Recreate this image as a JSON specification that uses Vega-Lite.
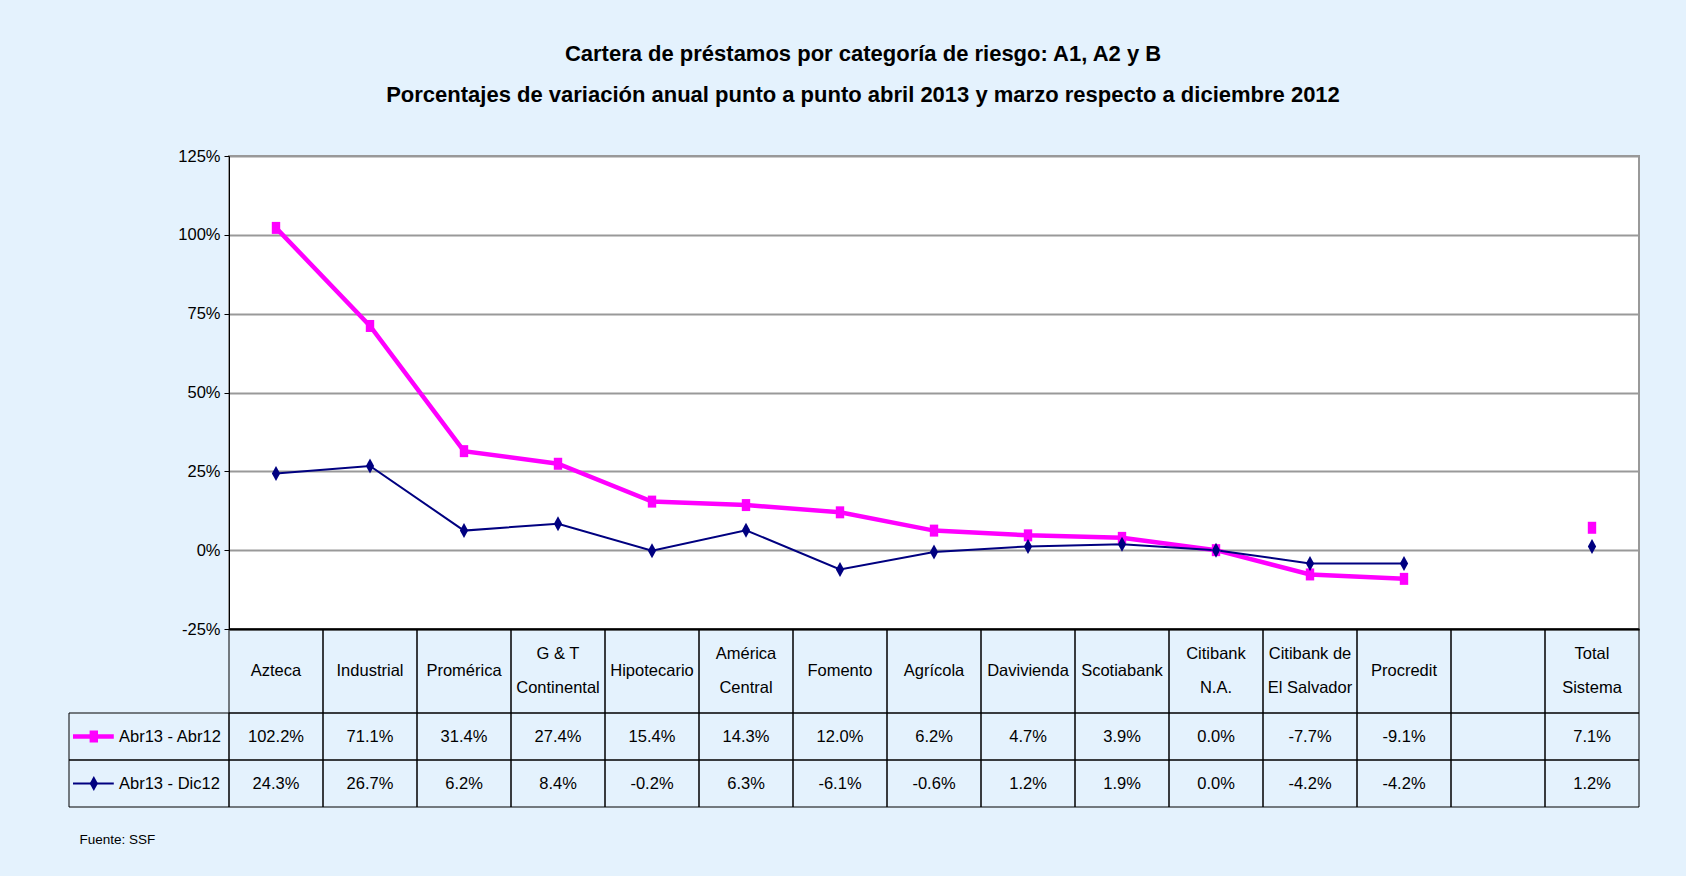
{
  "$schema": "https://vega.github.io/schema/vega-lite/v6.json",
  "background": "#E4F2FD",
  "padding": {"left": 68, "top": 43, "right": 48, "bottom": 30},
  "bounds": "flush",
  "title": {
    "text": ["Cartera de préstamos por categoría de riesgo: A1, A2 y B", "Porcentajes de variación anual punto a punto abril 2013 y marzo respecto a diciembre 2012"],
    "fontSize": 22, "fontWeight": "bold", "lineHeight": 41, "anchor": "middle", "dx": 9, "offset": 40, "color": "black"
  },
  "datasets": {
    "vals": [
      {"banco": "Azteca", "serie": "Abr13 - Abr12", "v": 1.022},
      {"banco": "Industrial", "serie": "Abr13 - Abr12", "v": 0.711},
      {"banco": "Promérica", "serie": "Abr13 - Abr12", "v": 0.314},
      {"banco": "G & T Continental", "serie": "Abr13 - Abr12", "v": 0.274},
      {"banco": "Hipotecario", "serie": "Abr13 - Abr12", "v": 0.154},
      {"banco": "América Central", "serie": "Abr13 - Abr12", "v": 0.143},
      {"banco": "Fomento", "serie": "Abr13 - Abr12", "v": 0.120},
      {"banco": "Agrícola", "serie": "Abr13 - Abr12", "v": 0.062},
      {"banco": "Davivienda", "serie": "Abr13 - Abr12", "v": 0.047},
      {"banco": "Scotiabank", "serie": "Abr13 - Abr12", "v": 0.039},
      {"banco": "Citibank N.A.", "serie": "Abr13 - Abr12", "v": 0.000},
      {"banco": "Citibank de El Salvador", "serie": "Abr13 - Abr12", "v": -0.077},
      {"banco": "Procredit", "serie": "Abr13 - Abr12", "v": -0.091},
      {"banco": " ", "serie": "Abr13 - Abr12", "v": null},
      {"banco": "Total Sistema", "serie": "Abr13 - Abr12", "v": 0.071},
      {"banco": "Azteca", "serie": "Abr13 - Dic12", "v": 0.243},
      {"banco": "Industrial", "serie": "Abr13 - Dic12", "v": 0.267},
      {"banco": "Promérica", "serie": "Abr13 - Dic12", "v": 0.062},
      {"banco": "G & T Continental", "serie": "Abr13 - Dic12", "v": 0.084},
      {"banco": "Hipotecario", "serie": "Abr13 - Dic12", "v": -0.002},
      {"banco": "América Central", "serie": "Abr13 - Dic12", "v": 0.063},
      {"banco": "Fomento", "serie": "Abr13 - Dic12", "v": -0.061},
      {"banco": "Agrícola", "serie": "Abr13 - Dic12", "v": -0.006},
      {"banco": "Davivienda", "serie": "Abr13 - Dic12", "v": 0.012},
      {"banco": "Scotiabank", "serie": "Abr13 - Dic12", "v": 0.019},
      {"banco": "Citibank N.A.", "serie": "Abr13 - Dic12", "v": 0.000},
      {"banco": "Citibank de El Salvador", "serie": "Abr13 - Dic12", "v": -0.042},
      {"banco": "Procredit", "serie": "Abr13 - Dic12", "v": -0.042},
      {"banco": " ", "serie": "Abr13 - Dic12", "v": null},
      {"banco": "Total Sistema", "serie": "Abr13 - Dic12", "v": 0.012}
    ],
    "encabezados": [
      {"banco": "Azteca", "lineas": "Azteca"},
      {"banco": "Industrial", "lineas": "Industrial"},
      {"banco": "Promérica", "lineas": "Promérica"},
      {"banco": "G & T Continental", "lineas": ["G & T", "Continental"]},
      {"banco": "Hipotecario", "lineas": "Hipotecario"},
      {"banco": "América Central", "lineas": ["América", "Central"]},
      {"banco": "Fomento", "lineas": "Fomento"},
      {"banco": "Agrícola", "lineas": "Agrícola"},
      {"banco": "Davivienda", "lineas": "Davivienda"},
      {"banco": "Scotiabank", "lineas": "Scotiabank"},
      {"banco": "Citibank N.A.", "lineas": ["Citibank", "N.A."]},
      {"banco": "Citibank de El Salvador", "lineas": ["Citibank de", "El Salvador"]},
      {"banco": "Procredit", "lineas": "Procredit"},
      {"banco": " ", "lineas": ""},
      {"banco": "Total Sistema", "lineas": ["Total", "Sistema"]}
    ],
    "series": [
      {"serie": "Abr13 - Abr12"},
      {"serie": "Abr13 - Dic12"}
    ]
  },
  "spacing": 0,
  "vconcat": [
    {
      "width": 1410,
      "height": 473,
      "data": {"name": "vals"},
      "view": {"fill": "white", "stroke": "#999999", "strokeWidth": 2},
      "encoding": {
        "x": {
          "field": "banco", "type": "nominal", "sort": null,
          "scale": {"type": "band", "paddingInner": 0, "paddingOuter": 0},
          "axis": {"title": null, "labels": false, "ticks": false, "domain": true, "domainColor": "black", "domainWidth": 2, "grid": false, "minExtent": 0, "maxExtent": 0, "labelPadding": 0}
        },
        "y": {
          "field": "v", "type": "quantitative",
          "scale": {"domain": [-0.25, 1.25], "nice": false, "zero": false},
          "axis": {
            "values": [-0.25, 0, 0.25, 0.5, 0.75, 1, 1.25], "format": ".0%", "title": null,
            "grid": true, "gridColor": "#999999", "gridWidth": 2,
            "domainColor": "black", "tickColor": "black", "tickSize": 5,
            "labelFontSize": 16.5, "labelColor": "black", "labelPadding": 4,
            "minExtent": 160, "maxExtent": 160
          }
        },
        "color": {
          "field": "serie", "type": "nominal",
          "scale": {"domain": ["Abr13 - Abr12", "Abr13 - Dic12"], "range": ["#FF00FF", "#000080"]},
          "legend": null
        }
      },
      "layer": [
        {
          "mark": {"type": "line"},
          "encoding": {
            "strokeWidth": {"field": "serie", "type": "ordinal", "scale": {"domain": ["Abr13 - Abr12", "Abr13 - Dic12"], "range": [4.5, 2]}, "legend": null}
          }
        },
        {
          "mark": {"type": "point", "filled": true, "opacity": 1},
          "encoding": {
            "shape": {"field": "serie", "type": "nominal", "scale": {"domain": ["Abr13 - Abr12", "Abr13 - Dic12"], "range": ["M-0.7,-1H0.7V1H-0.7Z", "M-0.55,0L0,-1L0.55,0L0,1Z"]}, "legend": null},
            "size": {"field": "serie", "type": "nominal", "scale": {"domain": ["Abr13 - Abr12", "Abr13 - Dic12"], "range": [144, 225]}, "legend": null}
          }
        }
      ]
    },
    {
      "width": 1410,
      "height": 84,
      "data": {"name": "encabezados"},
      "encoding": {
        "x": {
          "field": "banco", "type": "nominal",
          "scale": {"type": "band", "paddingInner": 0, "paddingOuter": 0, "domain": ["Azteca", "Industrial", "Promérica", "G & T Continental", "Hipotecario", "América Central", "Fomento", "Agrícola", "Davivienda", "Scotiabank", "Citibank N.A.", "Citibank de El Salvador", "Procredit", " ", "Total Sistema"]},
          "axis": null
        }
      },
      "layer": [
        {"mark": {"type": "rect", "fill": "transparent", "stroke": "black", "strokeWidth": 1}},
        {
          "transform": [{"filter": "!isArray(datum.lineas)"}],
          "mark": {"type": "text", "fontSize": 16.5, "color": "black", "baseline": "middle"},
          "encoding": {"text": {"field": "lineas", "type": "nominal"}}
        },
        {
          "transform": [{"filter": "isArray(datum.lineas)"}],
          "mark": {"type": "text", "fontSize": 16.5, "color": "black", "baseline": "middle", "lineHeight": 34, "dy": -17},
          "encoding": {"text": {"field": "lineas", "type": "nominal"}}
        }
      ]
    },
    {
      "width": 1410,
      "height": 94,
      "title": {"text": "Fuente: SSF", "orient": "bottom", "anchor": "start", "fontSize": 13.5, "fontWeight": "normal", "offset": 25, "dx": 11, "color": "black"},
      "encoding": {
        "y": {"field": "serie", "type": "nominal", "sort": null, "scale": {"type": "band", "paddingInner": 0, "paddingOuter": 0}, "axis": null}
      },
      "resolve": {"scale": {"x": "independent"}},
      "layer": [
        {
          "data": {"name": "vals"},
          "encoding": {
            "x": {"field": "banco", "type": "nominal", "sort": null, "scale": {"type": "band", "paddingInner": 0, "paddingOuter": 0}, "axis": null}
          },
          "layer": [
            {"mark": {"type": "rect", "fill": "transparent", "stroke": "black", "strokeWidth": 1}},
            {
              "transform": [{"filter": "isValid(datum.v)"}],
              "mark": {"type": "text", "fontSize": 16.5, "color": "black", "baseline": "middle"},
              "encoding": {"text": {"field": "v", "type": "quantitative", "format": ".1%"}}
            }
          ]
        },
        {
          "data": {"name": "series"},
          "layer": [
            {
              "mark": {"type": "rect", "fill": "transparent", "stroke": "black", "strokeWidth": 1},
              "encoding": {
                "x": {"datum": -1, "type": "quantitative", "scale": {"domain": [0, 8.8125], "nice": false, "zero": false}, "axis": null},
                "x2": {"datum": 0}
              }
            },
            {
              "mark": {"type": "rule"},
              "encoding": {
                "x": {"datum": -0.975, "type": "quantitative"},
                "x2": {"datum": -0.72},
                "y": {"field": "serie", "type": "nominal", "sort": null, "bandPosition": 0.5},
                "color": {"field": "serie", "type": "nominal", "scale": {"domain": ["Abr13 - Abr12", "Abr13 - Dic12"], "range": ["#FF00FF", "#000080"]}, "legend": null},
                "strokeWidth": {"field": "serie", "type": "ordinal", "scale": {"domain": ["Abr13 - Abr12", "Abr13 - Dic12"], "range": [4.5, 2]}, "legend": null}
              }
            },
            {
              "mark": {"type": "point", "filled": true, "opacity": 1},
              "encoding": {
                "x": {"datum": -0.845, "type": "quantitative"},
                "color": {"field": "serie", "type": "nominal", "scale": {"domain": ["Abr13 - Abr12", "Abr13 - Dic12"], "range": ["#FF00FF", "#000080"]}, "legend": null},
                "shape": {"field": "serie", "type": "nominal", "scale": {"domain": ["Abr13 - Abr12", "Abr13 - Dic12"], "range": ["M-0.7,-1H0.7V1H-0.7Z", "M-0.55,0L0,-1L0.55,0L0,1Z"]}, "legend": null},
                "size": {"field": "serie", "type": "nominal", "scale": {"domain": ["Abr13 - Abr12", "Abr13 - Dic12"], "range": [144, 225]}, "legend": null}
              }
            },
            {
              "mark": {"type": "text", "align": "left", "baseline": "middle", "fontSize": 16.5, "color": "black"},
              "encoding": {
                "x": {"datum": -0.6875, "type": "quantitative"},
                "text": {"field": "serie", "type": "nominal"}
              }
            }
          ]
        }
      ]
    }
  ],
  "config": {
    "font": "Liberation Sans, Arial, sans-serif",
    "view": {"stroke": null},
    "title": {"font": "Liberation Sans, Arial, sans-serif"},
    "axis": {"labelFont": "Liberation Sans, Arial, sans-serif"},
    "text": {"font": "Liberation Sans, Arial, sans-serif"},
    "locale": {
      "number": {"decimal": ".", "thousands": ",", "grouping": [3], "currency": ["$", ""], "minus": "-"}
    }
  }
}
